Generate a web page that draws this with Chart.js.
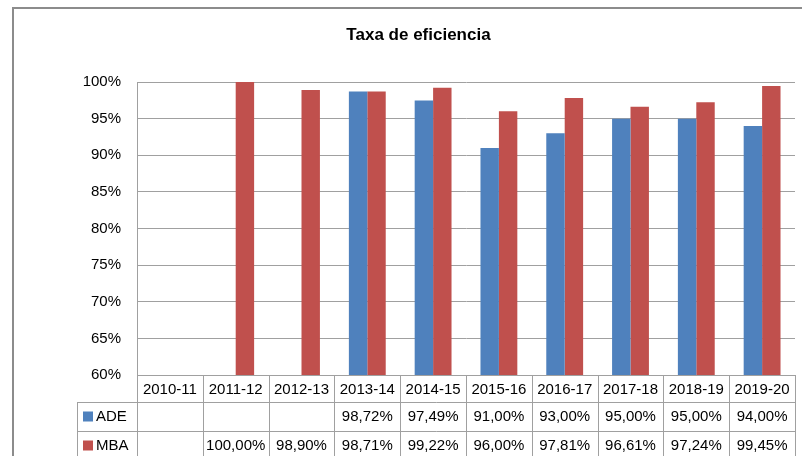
<!DOCTYPE html>
<html>
<head>
<meta charset="utf-8">
<title>Taxa de eficiencia</title>
<script src="https://cdn.jsdelivr.net/npm/chart.js@4/dist/chart.umd.min.js"></script>
<style>
  html, body { margin: 0; padding: 0; background: #fff; }
  #wrap { width: 802px; height: 456px; }
</style>
</head>
<body>
<div id="wrap"><canvas id="myChart" width="802" height="456"></canvas></div>
<script>
// data
const categories = ['2010-11', '2011-12', '2012-13', '2013-14', '2014-15', '2015-16', '2016-17', '2017-18', '2018-19', '2019-20'];
const ade = [null, null, null, 98.72, 97.49, 91.00, 93.00, 95.00, 95.00, 94.00];
const mba = [null, 100.00, 98.90, 98.71, 99.22, 96.00, 97.81, 96.61, 97.24, 99.45];
const yTicks = [60, 65, 70, 75, 80, 85, 90, 95, 100];

const FONT = 'Liberation Sans, Arial, sans-serif';
const LINE = '#a0a0a0';

function fmt(v) {
    return v.toFixed(2).replace('.', ',') + '%';
}

// frame + data table under the x axis
const tablePlugin = {
    id: 'dataTable',
    beforeDraw(chart) {
        const c = chart.ctx;
        c.save();
        c.fillStyle = '#fff';
        c.fillRect(0, 0, chart.width, chart.height);
        c.strokeStyle = '#8c8c8c';
        c.lineWidth = 2;
        c.strokeRect(13, 8, chart.width + 20, chart.height + 20);
        c.restore();
    },
    afterDraw(chart) {
        const c = chart.ctx;
        const xs = chart.scales.x;
        const area = chart.chartArea;
        const n = categories.length;
        const cw = (area.right - area.left) / n;
        const rowTop = area.bottom + 27;
        const rowH = 29;
        const keyLeft = 77;

        c.save();
        c.strokeStyle = LINE;
        c.lineWidth = 1;
        c.beginPath();
        // vertical lines at category boundaries
        for (let i = 0; i <= n; i++) {
            const x = Math.round(xs.getPixelForValue(i) - cw / 2) + 0.5;
            c.moveTo(x, area.bottom);
            c.lineTo(x, chart.height);
        }
        // legend column
        c.moveTo(keyLeft + 0.5, rowTop);
        c.lineTo(keyLeft + 0.5, chart.height);
        // row lines
        for (let r = 0; r < 2; r++) {
            const y = Math.round(rowTop + r * rowH) + 0.5;
            c.moveTo(keyLeft, y);
            c.lineTo(Math.round(area.right) + 0.5, y);
        }
        c.stroke();

        c.font = '15px ' + FONT;
        c.textBaseline = 'middle';
        chart.data.datasets.forEach((ds, r) => {
            const yc = rowTop + r * rowH + rowH / 2;
            // legend key
            c.fillStyle = ds.backgroundColor;
            c.fillRect(keyLeft + 6, yc - 5, 10, 10);
            c.fillStyle = '#000';
            c.textAlign = 'left';
            c.fillText(ds.label, keyLeft + 19, yc);
            // values
            c.textAlign = 'center';
            ds.data.forEach((v, i) => {
                if (v === null) return;
                c.fillText(fmt(v), xs.getPixelForValue(i), yc, cw - 5);
            });
        });
        c.restore();
    }
};

const ctx = document.getElementById('myChart').getContext('2d');
const myChart = new Chart(ctx, {
    type: 'bar',
    data: {
        labels: categories,
        datasets: [{
            label: 'ADE',
            data: ade,
            backgroundColor: '#4f81bd',
            borderWidth: 0
        }, {
            label: 'MBA',
            data: mba,
            backgroundColor: '#c0504d',
            borderWidth: 0
        }]
    },
    options: {
        responsive: false,
        animation: false,
        categoryPercentage: 0.56,
        barPercentage: 1.0,
        layout: { padding: { top: 17, left: 42, right: 7, bottom: 0 } },
        plugins: {
            legend: { display: false },
            tooltip: { enabled: false },
            title: {
                display: true,
                text: 'Taxa de eficiencia',
                color: '#000',
                font: { family: FONT, size: 17, weight: 'bold' },
                padding: { top: 8, bottom: 36.6 }
            }
        },
        scales: {
            x: {
                grid: { display: false, drawTicks: false },
                border: { display: true, color: LINE },
                ticks: { color: '#000', font: { family: FONT, size: 15 }, padding: 6, maxRotation: 0, autoSkip: false },
                afterFit(scale) { scale.height = 81; }
            },
            y: {
                min: 60,
                max: 100,
                afterBuildTicks(scale) { scale.ticks = yTicks.map(v => ({ value: v })); },
                grid: { color: LINE, drawTicks: false },
                border: { display: true, color: LINE },
                ticks: {
                    color: '#000',
                    font: { family: FONT, size: 15 },
                    padding: 16,
                    callback: v => v + '%'
                },
                afterFit(scale) { scale.width = 95; }
            }
        }
    },
    plugins: [tablePlugin]
});
</script>
</body>
</html>
